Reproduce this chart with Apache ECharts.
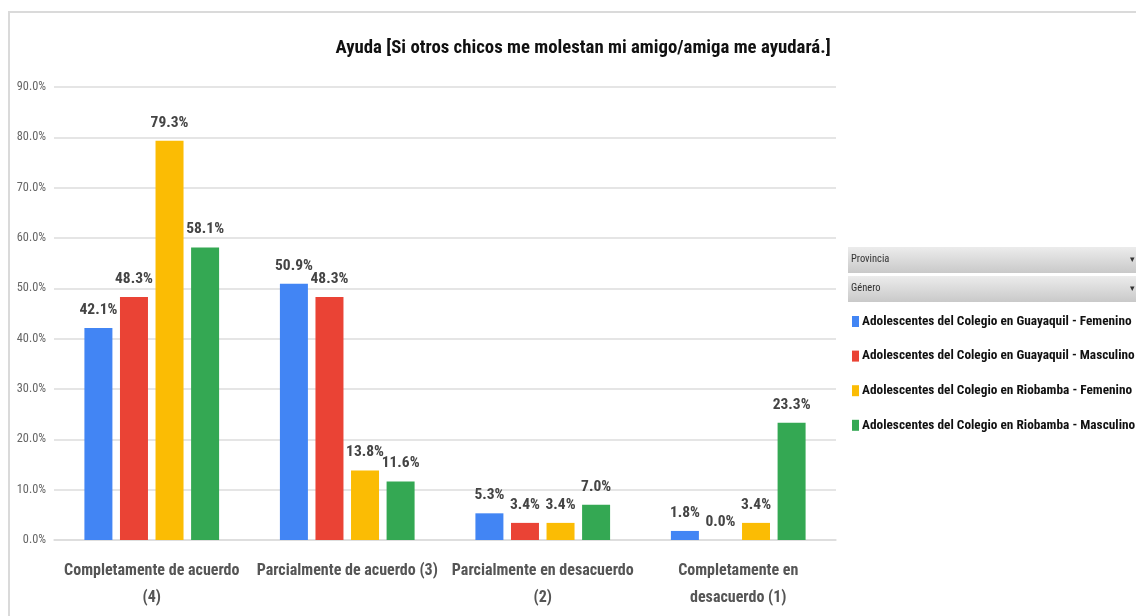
<!DOCTYPE html>
<html>
<head>
<meta charset="utf-8">
<script src="https://cdn.jsdelivr.net/npm/echarts@6/dist/echarts.min.js"></script>
<style>
  html, body { margin: 0; padding: 0; background: #fff; }
  #main { width: 1136px; height: 616px; }
</style>
</head>
<body>
<div id="main"></div>
<script>
const FONT = '"Roboto Condensed", "Liberation Sans Narrow", Roboto, sans-serif'

const titleText = 'Ayuda [Si otros chicos me molestan mi amigo/amiga me ayudará.]'
const categories = [
  'Completamente de acuerdo\n(4)',
  'Parcialmente de acuerdo (3)',
  'Parcialmente en desacuerdo\n(2)',
  'Completamente en\ndesacuerdo (1)'
]
const seriesNames = [
  'Adolescentes del Colegio en Guayaquil - Femenino',
  'Adolescentes del Colegio en Guayaquil - Masculino',
  'Adolescentes del Colegio en Riobamba - Femenino',
  'Adolescentes del Colegio en Riobamba - Masculino'
]
const guayaquilFem = [42.1, 50.9, 5.3, 1.8]
const guayaquilMasc = [48.3, 48.3, 3.4, 0.0]
const riobambaFem = [79.3, 13.8, 3.4, 3.4]
const riobambaMasc = [58.1, 11.6, 7.0, 23.3]
const colors = ['#4285F4', '#EA4335', '#FBBC04', '#34A853']
const filterLabels = ['Provincia', 'Género']

const values = [guayaquilFem, guayaquilMasc, riobambaFem, riobambaMasc]

function dropdown(label, y) {
  return {
    type: 'group',
    left: 848,
    top: y,
    children: [
      {
        type: 'rect',
        shape: { x: 0, y: 0, width: 290, height: 26 },
        style: {
          fill: new echarts.graphic.LinearGradient(0, 0, 0, 1, [
            { offset: 0, color: '#ececec' },
            { offset: 1, color: '#c9c9c9' }
          ])
        }
      },
      {
        type: 'text',
        x: 3,
        y: 7,
        style: { text: label, fill: '#333', font: '10.5px ' + FONT }
      },
      {
        type: 'text',
        x: 282,
        y: 8,
        style: { text: '▾', fill: '#333', font: '9px ' + FONT }
      }
    ]
  }
}

const myChart = echarts.init(document.getElementById('main'))
const option = {
  backgroundColor: '#fff',
  animation: false,
  textStyle: { fontFamily: FONT },
  title: {
    text: titleText,
    left: 578,
    top: 34,
    textAlign: 'center',
    textStyle: { fontFamily: FONT, fontSize: 18.8, fontWeight: 'bold', color: '#111' }
  },
  legend: {
    orient: 'vertical',
    left: 852,
    top: 315,
    padding: 0,
    itemWidth: 7,
    itemHeight: 11,
    itemGap: 21.6,
    icon: 'rect',
    textStyle: { fontFamily: FONT, fontSize: 13.3, fontWeight: 'bold', color: '#111', padding: [0, 0, 0, -2] },
    data: seriesNames
  },
  grid: { left: 54, right: 300, top: 87, bottom: 76 },
  xAxis: {
    type: 'category',
    data: categories,
    axisLine: { lineStyle: { color: '#dcdcdc', width: 1.5 } },
    axisTick: { show: false },
    axisLabel: {
      margin: 17,
      fontFamily: FONT,
      fontSize: 16,
      fontWeight: 'bold',
      color: '#555',
      lineHeight: 27,
      interval: 0
    }
  },
  yAxis: {
    type: 'value',
    min: 0,
    max: 90,
    interval: 10,
    axisLine: { show: false },
    axisTick: { show: false },
    splitLine: { lineStyle: { color: '#dcdcdc', width: 1.5 } },
    axisLabel: {
      margin: 8,
      fontFamily: FONT,
      fontSize: 12.3,
      color: '#666',
      formatter: v => v.toFixed(1) + '%'
    }
  },
  series: seriesNames.map((name, i) => ({
    type: 'bar',
    name: name,
    data: values[i],
    barWidth: 28,
    barGap: '27%',
    itemStyle: { color: colors[i] },
    label: {
      show: true,
      position: 'top',
      distance: 10,
      fontFamily: FONT,
      fontSize: 15.5,
      fontWeight: 'bold',
      color: '#444',
      formatter: p => p.value.toFixed(1) + '%'
    }
  })),
  graphic: [
    {
      type: 'rect',
      shape: { x: 9, y: 12, width: 1140, height: 620 },
      style: { fill: 'none', stroke: '#dadada', lineWidth: 2 },
      silent: true
    },
    dropdown(filterLabels[0], 247),
    dropdown(filterLabels[1], 276)
  ]
}
myChart.setOption(option)
window.onresize = function () {
  myChart.resize()
}
</script>
</body>
</html>
